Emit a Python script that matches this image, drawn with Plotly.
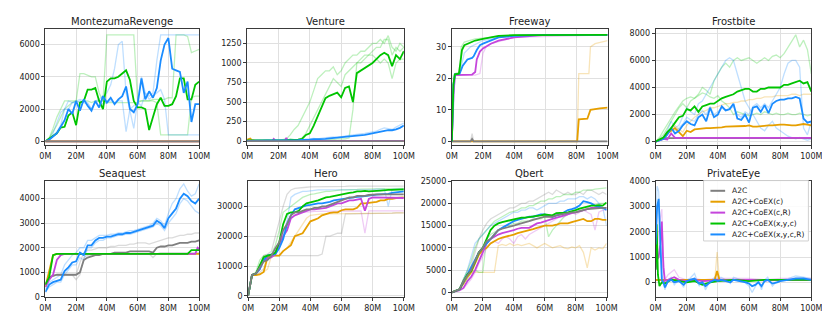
import plotly.graph_objects as go

# ---------------- time grid (millions of frames) ----------------
T = [0, 2.5, 5, 7.5, 10, 12.5, 15, 17.5, 20, 22.5, 25, 27.5, 30, 32.5, 35, 37.5, 40, 42.5, 45, 47.5,
     50, 52.5, 55, 57.5, 60, 62.5, 65, 67.5, 70, 72.5, 75, 77.5, 80, 82.5, 85, 87.5, 90, 92.5, 95, 97.5, 100]

FLAT_X = [0, 100]
FLAT_ZERO = [0, 0]

# ---------------- MontezumaRevenge ----------------
mr_blue = [0,100,300,500,900,1300,2000,1700,2500,1900,
           2600,2200,1900,2500,2100,2800,2400,2700,2300,2600,
           2800,3400,2000,1800,2300,3900,2600,3100,2700,3300,
           5000,6000,6400,4500,4400,4300,3000,3700,1200,2300,
           2300]
mr_green = [0,150,350,500,850,900,1600,1800,1000,2400,
            2500,3200,3200,3300,2500,2000,3700,3900,3900,4000,
            4200,4400,3800,2500,2100,2100,2000,700,1500,2300,
            2700,2200,2200,2300,2800,3900,3900,2600,2600,3500,
            3700]
mr_lg1 = [0,200,800,1500,2000,2500,2500,2500,2500,2400,
          2500,2500,2400,2500,2500,2500,6600,6600,6600,6600,
          6600,6600,6600,6600,2500,2500,2500,2500,2600,2600,
          2600,2600,2700,2700,6600,6600,6600,6500,5500,5600,
          5700]
mr_lg2 = [0,200,600,1000,1500,2000,2200,2400,2500,4200,
          4200,4100,4000,4000,3000,2500,2400,2400,2400,2400,
          2400,2400,2400,2400,2400,2500,2500,2500,2500,2400,
          400,400,400,400,400,400,400,400,2700,2800,
          2800]
mr_lb1 = [0,100,500,1200,1800,2000,2500,2400,2500,2600,
          2500,2400,2000,2500,2600,2800,3000,3500,4500,6000,
          6200,3000,2000,800,2500,4000,3000,2800,3000,5000,
          6600,6600,6600,6600,6600,6600,6600,6600,6600,6600,
          6600]
mr_lb2 = [0,100,300,600,1000,2000,2000,2400,2400,2500,
          2400,2300,2000,2400,2500,2300,2400,2500,2400,2500,
          2500,600,2000,2200,2400,2200,3000,2600,2800,3000,
          3200,2600,400,400,400,400,400,400,400,400,
          400]

# ---------------- Venture ----------------
v_green = [10,10,10,15,10,10,15,10,10,15,
           10,20,15,20,30,80,100,200,320,450,
           550,580,600,620,560,680,700,500,870,900,
           930,970,1000,1050,1100,1130,1100,960,1100,1050,
           1150]
v_blue = [5,5,5,8,8,10,10,10,10,10,
          10,10,12,12,15,15,20,25,25,30,
          30,35,40,40,45,50,55,60,65,70,
          80,90,100,110,120,130,140,140,150,170,
          200]
v_orange_x = [0, 1, 2, 3, 5, 100]
v_orange_y = [20, 30, 35, 15, 5, 5]
v_mag_x = [0, 16, 17, 18, 24, 25, 26, 100]
v_mag_y = [5, 5, 30, 5, 5, 40, 5, 5]
v_lg1 = [10,10,10,10,10,10,10,10,10,20,
         30,80,150,200,300,400,500,650,800,850,
         900,900,950,850,900,1000,1050,1100,1100,1150,
         1150,1200,1250,1250,1300,1250,1350,1200,1150,1250,
         1200]
v_lg2 = [10,10,10,10,10,10,10,10,10,10,
         10,10,10,10,10,10,10,10,10,10,
         10,20,20,30,30,30,40,400,1000,1050,
         1100,1100,1150,1200,1200,1300,1300,1100,1200,1150,
         1200]
v_lg3 = [10,10,10,10,10,10,10,10,10,10,
         10,10,10,20,40,100,200,300,400,500,
         600,700,800,750,700,850,900,950,1000,1000,
         1050,1100,1100,1050,1000,1050,1000,800,1000,1050,
         1050]
v_lb1 = [5,5,5,8,10,15,10,15,10,15,
         10,15,20,15,20,25,30,35,30,40,
         45,50,55,50,60,70,75,80,85,90,
         100,110,120,130,150,170,160,150,180,200,
         230]

# ---------------- Freeway ----------------
fw_green_x = [0, 1, 2, 4.5, 5.5, 6.5, 8, 10, 15, 20, 25, 30, 40, 60, 100]
fw_green_y = [0, 18, 21.3, 21.5, 25, 29, 30.5, 31, 32, 32.5, 33, 33.5, 33.7, 33.8, 33.8]
fw_blue_x = [0, 1, 2, 5, 7, 10, 13, 14, 16, 18, 20, 25, 30, 40, 60, 100]
fw_blue_y = [0, 18, 21.3, 21.5, 24, 26, 26.5, 27, 29, 30.5, 31, 32, 33, 33.5, 33.8, 33.8]
fw_mag_x = [0, 1, 2, 13, 15, 16, 18, 20, 25, 30, 40, 50, 60, 100]
fw_mag_y = [0, 15, 21, 21.2, 22, 26, 28.5, 29.5, 31, 32, 33, 33.5, 33.8, 33.8]
fw_orange_x = [0, 80.5, 81.5, 87, 89, 92, 95, 100]
fw_orange_y = [0, 0, 7, 7.2, 10, 10.3, 10.5, 10.7]
fw_gray_x = [0, 12, 13, 14, 100]
fw_gray_y = [0, 0, 0.8, 0, 0]
fw_lg_x = [0, 1, 2, 5, 6, 8, 15, 25, 40, 100]
fw_lg_y = [0, 21, 21.5, 22, 30, 31.5, 32.5, 33, 33.8, 33.8]
fw_lb_x = [0, 2, 5, 8, 12, 16, 20, 30, 50, 100]
fw_lb_y = [0, 21.5, 21.5, 28, 30, 31, 32, 33, 33.8, 33.8]
fw_lm_x = [0, 2, 15, 18, 20, 22, 25, 40, 100]
fw_lm_y = [0, 21, 21, 21.5, 28, 30, 31, 33, 33.8]
fw_lo_x = [0, 80.5, 81.5, 88, 89, 92, 100]
fw_lo_y = [0, 0, 21.5, 21.5, 30, 31, 32]
fw_lgray_x = [0, 12, 13, 14, 100]
fw_lgray_y = [0, 0, 2.5, 0, 0]

# ---------------- Frostbite ----------------
fb_green = [0,150,300,700,1000,1400,1800,1900,2400,2300,
            2600,2200,2600,2700,2800,2800,3000,3200,3300,3400,
            3500,3700,3800,3900,3900,3700,3700,3900,3900,4000,
            4000,4000,4000,4200,4200,4300,4400,4500,4300,4400,
            3700]
fb_blue = [0,100,200,500,1000,600,800,1200,1500,1300,
           1200,1800,2000,1500,2500,1800,2000,2600,2300,2400,
           2800,1700,1600,2000,1400,2500,2600,2200,2700,2100,
           2800,3000,3100,3100,3200,3200,3300,3200,1700,1400,
           1500]
fb_orange = [0,100,200,600,800,1000,700,400,800,700,
             900,950,1000,1000,1000,1000,1000,1050,1100,1100,
             1100,1100,1100,1150,1200,1100,1100,1150,1200,1200,
             1200,1250,1250,1250,1200,1200,1200,1250,1300,1250,
             1200]
fb_mag_x = [0, 2.5, 5, 7.5, 10, 12.5, 100]
fb_mag_y = [0, 100, 200, 150, 600, 270, 270]
fb_gray_x = [0, 2.5, 5, 100]
fb_gray_y = [0, 150, 250, 250]
fb_lg1 = [0,200,500,1000,1500,2000,2500,2800,2500,3000,
          3200,3500,4000,3800,3500,4500,5000,5500,5800,5500,
          6000,6200,6000,6100,6200,6000,5800,6000,6200,6000,
          6300,6400,6200,6500,7000,7500,7900,7000,7500,6800,
          5000]
fb_lg2 = [0,300,800,1300,1800,2200,2600,3000,3200,3300,
          3200,3400,3600,3500,3300,3200,3400,3000,2800,2500,
          2000,2200,2100,2000,1900,2000,2100,2000,2200,2100,
          2000,2100,2000,2000,2100,2000,2000,2100,2000,1900,
          2000]
fb_lb1 = [0,100,300,800,1500,1000,1200,1800,2500,2200,
          2000,2800,3000,3500,4000,4500,5000,5500,6000,6200,
          6000,5000,4000,3000,2500,2000,1500,1000,800,1200,
          1500,1000,800,600,400,300,200,300,200,100,
          200]
fb_lb2 = [0,100,300,600,900,800,1000,1300,1800,1600,
          1500,2000,2300,2000,2600,2000,2200,2500,2300,2400,
          2600,2000,1800,2200,2000,2600,2800,2500,2800,2500,
          3000,3500,4000,5000,5800,6000,6000,5500,1000,500,
          1500]
fb_lo1 = [0,100,300,700,900,1200,900,700,1200,1500,
          1800,2000,2200,2300,2500,2500,2600,2700,2800,2800,
          2900,2900,3000,3000,3100,3100,3200,3200,3300,3300,
          3300,3400,3400,3400,3400,3500,3500,3400,3500,3500,
          3500]

# ---------------- Seaquest ----------------
sq_blue = [200,500,600,650,700,1050,1200,1400,1450,1800,
           1700,2100,2100,2300,2400,2400,2450,2450,2500,2550,
           2550,2600,2600,2650,2700,2750,2800,2850,2900,3100,
           3000,2800,3200,3400,3600,4000,4200,4100,3900,3800,
           4000]
sq_gray = [500,800,850,900,900,900,900,900,900,1000,
           1500,1600,1650,1700,1700,1750,1750,1750,1800,1800,
           1800,1800,1850,1850,1850,1850,1850,1850,1800,2000,
           2050,2050,2100,2100,2150,2200,2200,2200,2250,2250,
           2300]
sq_green_x = [0, 2.5, 5, 7.5, 92.5, 95, 100]
sq_green_y = [500, 800, 1700, 1750, 1750, 1900, 1900]
sq_orange_x = [0, 2.5, 5, 7.5, 100]
sq_orange_y = [400, 1000, 1700, 1750, 1750]
sq_mag_x = [0, 2.5, 5, 7.5, 10, 12.5, 97.5, 99, 100]
sq_mag_y = [400, 700, 900, 1500, 1700, 1750, 1750, 2000, 1950]
sq_lgray1 = [500,800,900,900,900,900,900,900,900,1400,
             1800,1900,1900,1950,2000,2000,2000,2050,2050,2100,
             2100,2100,2150,2150,2200,2200,2200,2150,2200,2250,
             2300,2350,2400,2400,2450,2500,2500,2550,2550,2600,
             2600]
sq_lgray2 = [500,800,850,900,900,900,900,900,700,900,
             1600,1700,1700,1750,1750,1750,1750,1750,1750,1750,
             1750,1750,1750,1750,1750,1750,1750,1750,1600,1750,
             1800,1800,1800,1800,1800,1800,1800,1800,1800,1800,
             1800]
sq_lb1 = [300,600,700,800,900,1300,1500,1700,1800,2000,
          2000,2300,2300,2400,2500,2500,2500,2550,2550,2600,
          2600,2650,2700,2700,2750,2800,2850,2900,3000,3200,
          3100,2900,3400,3800,4000,4400,4600,4300,4100,4200,
          4600]
sq_lb2 = [200,400,500,600,600,900,1100,1300,1300,1600,
          1500,2000,2000,2200,2300,2300,2400,2400,2450,2500,
          2500,2550,2550,2600,2650,2700,2750,2800,2850,3000,
          2900,2700,3000,3200,3400,3800,4000,3900,3700,3500,
          3400]

# ---------------- Hero ----------------
h_green = [0,7000,7500,10000,13000,13500,13800,14500,18000,24000,
           27500,28000,28000,28500,30000,31000,31300,31800,32000,32500,
           33000,33200,33500,33800,34000,34200,34500,34700,35000,35000,
           35200,35000,35000,35200,35300,35500,35500,35500,35600,35700,
           35700]
h_blue = [0,7000,7500,9000,12000,13500,13800,14000,16000,19000,
          24000,27000,29000,29500,30000,30300,30500,30800,31000,31000,
          31200,31500,32000,32200,32500,32700,33000,33000,33200,33300,
          33500,33600,33800,33900,34000,34000,34200,34500,34700,34900,
          35000]
h_mag = [0,7000,7500,9000,12000,12500,13000,14000,17000,20000,
         22000,26000,27000,27500,28000,28500,29000,29000,29200,29500,
         29500,30000,30500,31000,31000,31500,32000,32000,32200,32500,
         28500,32500,33000,33000,33000,33000,33000,33000,33000,33000,
         32800]
h_orange = [0,7000,7000,7200,8000,13000,13500,13500,13500,15000,
            16000,17000,20000,20500,21000,23000,25000,25500,26000,27000,
            27500,27800,28000,28000,28700,29000,29000,29000,29500,31000,
            31000,31200,31500,31500,32000,32000,32500,32500,32800,33000,
            33000]
h_gray = [0,7000,7500,9500,11500,12000,13500,16000,18000,22000,
          24000,27000,28000,28000,28500,29000,29000,29500,29500,30000,
          30000,30500,31000,31500,32000,32500,33000,33000,33500,33500,
          33500,33800,34000,34000,34000,34000,34000,34000,34000,34000,
          34000]
h_lgray1 = [0,7000,7000,8000,9000,13500,13500,13500,13500,13500,
            13500,13500,13500,13500,13500,13500,13500,13500,13500,14000,
            20000,20000,20500,21000,21000,27500,27500,27500,27500,27500,
            27500,27500,27500,27600,27600,27600,27700,27700,27800,27800,
            27800]
h_lgray2 = [0,7000,7500,10000,13500,14000,15000,20000,25000,30000,
            34000,35500,36000,36200,36300,36400,36500,36500,36500,36600,
            36600,36600,36700,36700,36700,36700,36800,36800,36800,36800,
            36800,36800,36800,36800,36800,36800,36800,36800,36800,36800,
            36800]
h_lo1 = [0,7000,7000,7500,8000,9000,13500,13500,13500,15000,
         16000,18000,20000,22000,24000,26000,27000,27200,27300,27500,
         27500,27500,27500,27500,27500,27500,27500,27500,27500,27500,
         27500,27500,27600,27600,27600,27700,27700,27700,27800,27800,
         27800]
h_lm1 = [0,7000,7500,9000,12000,13000,13500,14000,17000,21000,
         25000,27000,28000,28000,28000,28200,28200,28300,28300,28300,
         28300,28500,28500,28500,28500,28500,28500,28500,28500,28500,
         21000,28500,28500,28500,28500,28500,28500,28500,28500,28500,
         28500]
h_lg1 = [0,7000,8000,12000,13500,13800,14000,17000,22000,28000,
         29000,30000,31000,32000,33000,33500,34000,34200,34500,34800,
         35000,35000,35200,35300,35500,35500,35500,35600,35700,35800,
         35800,35900,36000,36000,36000,36000,36000,36000,36000,36000,
         36000]
h_lb1 = [0,7000,7500,10000,13000,13500,14000,15000,17000,20000,
         25000,33000,34000,34500,35000,35000,35200,35300,35500,35500,
         35500,35500,35500,35500,35500,35500,35500,35500,35500,35500,
         35500,35600,35600,35800,35800,35800,30000,35800,35800,35800,
         35800]

# ---------------- Qbert ----------------
q_green = [0,300,700,2500,4000,4800,7000,9000,10000,12000,
           14000,15000,15500,15800,16000,16300,16500,16600,16800,16800,
           16900,17000,17200,17300,17500,17400,17300,17800,17800,17900,
           18000,18200,18500,18800,19000,19200,19500,19500,19600,19500,
           20200]
q_blue = [0,300,700,2300,4000,5500,7500,9000,10000,11000,
          12000,13000,14000,14500,15000,15500,16000,16300,16500,16800,
          17000,17000,17200,17500,17500,17300,17000,17300,17500,18000,
          18500,18700,19000,19500,20500,20300,20000,19500,19200,19000,
          18500]
q_mag = [0,300,500,1000,2500,3500,5000,7000,9000,11000,
         12000,12500,13000,13300,13500,13800,14000,14300,14500,14500,
         14500,15000,15500,15700,16000,16300,16500,16800,17000,17300,
         17500,17800,18000,18200,18500,18700,19000,19000,19200,19000,
         19000]
q_orange = [0,300,700,2000,3500,4500,6500,8500,9500,10000,
            11000,11500,12000,12300,12500,12800,13000,13300,13500,13800,
            14000,14200,14500,14800,15000,15000,15000,15200,15500,15500,
            15500,15800,16000,16300,16500,16000,16000,16500,16500,16300,
            16300]
q_gray = [0,300,700,2500,3800,5000,7000,9000,10000,11500,
          12000,13000,14000,14300,14500,14800,15000,15300,15500,15800,
          16000,16300,16500,16800,17000,17000,17000,17300,17500,17700,
          17800,18000,18000,18300,18500,18700,18800,18900,19000,19000,
          19000]
q_lo1 = [0,300,700,2000,3500,4500,4500,4500,4500,4500,
         4500,4500,10500,10800,10500,11000,10500,10800,10500,10800,
         11000,10500,10000,10500,11000,10500,10000,10300,10500,10000,
         9800,10200,10000,10500,9000,5500,10000,9500,10000,9800,
         11000]
q_lgray1 = [0,300,800,3000,4500,6000,9000,12000,14000,15500,
            16500,17000,17500,18000,18500,19000,19000,19500,20000,20000,
            20500,20500,21000,21500,22000,22500,22000,23000,22500,22000,
            22500,22000,22000,22500,22000,23000,23000,22500,22000,22500,
            22000]
q_lg1 = [0,300,800,3000,5000,7000,10000,12000,13000,14000,
         15000,16000,16500,17000,17500,18000,18200,18500,19000,19000,
         19500,19500,20000,20500,20500,21000,21000,21500,21500,22000,
         22000,22000,22500,22500,23000,23000,23000,23200,23300,23500,
         23500]
q_lb1 = [0,300,800,3000,5000,8000,11000,12000,13000,14000,
         15000,15500,16000,16500,17000,17500,18000,18000,18500,18500,
         19000,19000,18500,19000,19500,20000,20000,20000,20500,20500,
         21000,21000,21000,21500,21500,21000,21500,21000,20000,19000,
         15000]
q_lm1 = [0,200,400,800,2000,3000,4500,6500,8000,10000,
         11000,11500,11000,12000,12500,12000,11000,12500,13000,12000,
         13000,13500,14000,14500,15000,15500,16000,16500,17000,17000,
         17500,18000,17500,18000,18500,18000,17500,14000,18000,18500,
         18500]
q_lg2 = [0,300,700,2000,3000,4500,5000,4500,4500,12000,
         13000,13500,14000,14500,15000,15000,15500,15500,16000,16000,
         16000,16500,16500,16500,17000,12500,14000,15000,16000,17000,
         17500,18000,18500,18500,19000,19000,19500,19500,20000,20000,
         20000]

# ---------------- PrivateEye ----------------
pe_blue_x = [0,1,2,3,4,5,6,8,10,12,15,18,20,22,25,28,30,32,35,38,40,42,45,48,50,55,58,60,62,64,66,68,70,72,75,78,80,85,90,95,100]
pe_blue_y = [1500,3000,3300,1500,100,0,-200,50,100,0,50,-100,50,100,150,-50,0,-150,0,100,
             50,100,50,0,100,50,0,-50,-150,-100,0,-150,50,100,-50,0,50,100,150,150,100]
pe_lb_y = [2000,3800,3600,2000,300,100,-300,100,200,-100,100,-200,100,150,350,-150,50,-300,50,200,
           100,200,100,-50,200,100,-50,-150,-400,-200,50,-300,100,200,-150,50,100,150,250,200,150]
pe_green_x = [0,0.7,1.5,2.5,4,6,10,15,20,25,30,35,40,50,60,70,80,90,100]
pe_green_y = [500,2300,300,-150,0,-50,100,50,0,50,-100,0,50,100,50,100,100,100,100]
pe_mag_x = [0,1,2,3,4,5,6,8,10,12,15,20,25,30,40,50,60,70,80,90,100]
pe_mag_y = [500,900,1000,1500,2400,600,50,100,150,200,100,50,100,50,80,100,100,80,100,100,100]
pe_lm_y = [800,1500,2000,2500,2900,1000,100,300,400,500,200,100,150,100,150,150,150,100,150,150,150]
pe_orange_x = [0,10,20,30,38,39.5,41,50,60,70,80,90,100]
pe_orange_y = [100,100,100,100,100,450,100,100,100,100,100,100,100]
pe_lo_y = [100,100,100,100,100,1200,100,100,100,100,100,100,100]
pe_gray_y = [100, 100]

# ---------------- styling ----------------
METHODS = ['A2C', 'A2C+CoEX(c)', 'A2C+CoEX(c,R)', 'A2C+CoEX(x,y,c)', 'A2C+CoEX(x,y,c,R)']
COLORS = {'A2C': '#7f7f7f', 'A2C+CoEX(c)': '#e69f00', 'A2C+CoEX(c,R)': '#c545dc',
          'A2C+CoEX(x,y,c)': '#00c400', 'A2C+CoEX(x,y,c,R)': '#1a8cff'}
LIGHT = {'A2C': 'rgba(127,127,127,0.28)', 'A2C+CoEX(c)': 'rgba(230,159,0,0.28)',
         'A2C+CoEX(c,R)': 'rgba(197,69,220,0.28)', 'A2C+CoEX(x,y,c)': 'rgba(0,196,0,0.26)',
         'A2C+CoEX(x,y,c,R)': 'rgba(26,140,255,0.28)'}

W, H = 830, 312
# (title, x0, x1, ytop, ybottom in px, yrange, dtick)
PANELS = [
    ('MontezumaRevenge', 32, 189, 17, 137, [-260, 6990], 2000),
    ('Venture', 238, 398, 17, 137, [-55, 1440], 250),
    ('Freeway', 447, 606, 17, 137, [-1.3, 35.8], 10),
    ('Frostbite', 655, 814, 17, 137, [-290, 8360], 2000),
    ('Seaquest', 32, 189, 173, 293, [-25, 4735], 1000),
    ('Hero', 239, 398, 173, 293, [-520, 38640], 10000),
    ('Qbert', 447, 605, 173, 293, [-1150, 25130], 5000),
    ('PrivateEye', 655, 814, 173, 293, [-600, 4025], 1000),
]

fig = go.Figure()


def add(k, x, y, method, light=False):
    sfx = '' if k == 1 else str(k)
    fig.add_trace(go.Scatter(
        x=x, y=y, mode='lines', xaxis='x' + sfx, yaxis='y' + sfx,
        line=dict(color=LIGHT[method] if light else COLORS[method], width=1.3 if light else 1.8),
        name=method, showlegend=False, hoverinfo='skip'))


A, C, CR, XYC, XYCR = METHODS

# 1 Montezuma
for s in (mr_lg1, mr_lg2):
    add(1, T, s, XYC, light=True)
for s in (mr_lb1, mr_lb2):
    add(1, T, s, XYCR, light=True)
add(1, T, mr_green, XYC)
add(1, T, mr_blue, XYCR)
add(1, FLAT_X, FLAT_ZERO, CR)
add(1, FLAT_X, FLAT_ZERO, C)
add(1, FLAT_X, FLAT_ZERO, A)

# 2 Venture
for s in (v_lg1, v_lg2, v_lg3):
    add(2, T, s, XYC, light=True)
add(2, T, v_lb1, XYCR, light=True)
add(2, v_orange_x, v_orange_y, C)
add(2, v_mag_x, v_mag_y, CR)
add(2, T, v_green, XYC)
add(2, T, v_blue, XYCR)
add(2, FLAT_X, FLAT_ZERO, A)

# 3 Freeway
add(3, fw_lg_x, fw_lg_y, XYC, light=True)
add(3, fw_lb_x, fw_lb_y, XYCR, light=True)
add(3, fw_lm_x, fw_lm_y, CR, light=True)
add(3, fw_lo_x, fw_lo_y, C, light=True)
add(3, fw_lgray_x, fw_lgray_y, A, light=True)
add(3, fw_orange_x, fw_orange_y, C)
add(3, fw_gray_x, fw_gray_y, A)
add(3, fw_mag_x, fw_mag_y, CR)
add(3, fw_blue_x, fw_blue_y, XYCR)
add(3, fw_green_x, fw_green_y, XYC)

# 4 Frostbite
add(4, T, fb_lo1, C, light=True)
for s in (fb_lg1, fb_lg2):
    add(4, T, s, XYC, light=True)
for s in (fb_lb1, fb_lb2):
    add(4, T, s, XYCR, light=True)
add(4, T, fb_orange, C)
add(4, fb_gray_x, fb_gray_y, A)
add(4, fb_mag_x, fb_mag_y, CR)
add(4, T, fb_blue, XYCR)
add(4, T, fb_green, XYC)

# 5 Seaquest
for s in (sq_lgray1, sq_lgray2):
    add(5, T, s, A, light=True)
for s in (sq_lb1, sq_lb2):
    add(5, T, s, XYCR, light=True)
add(5, T, sq_gray, A)
add(5, sq_orange_x, sq_orange_y, C)
add(5, sq_mag_x, sq_mag_y, CR)
add(5, sq_green_x, sq_green_y, XYC)
add(5, T, sq_blue, XYCR)

# 6 Hero
for s in (h_lgray1, h_lgray2):
    add(6, T, s, A, light=True)
add(6, T, h_lo1, C, light=True)
add(6, T, h_lm1, CR, light=True)
add(6, T, h_lg1, XYC, light=True)
add(6, T, h_lb1, XYCR, light=True)
add(6, T, h_orange, C)
add(6, T, h_mag, CR)
add(6, T, h_blue, XYCR)
add(6, T, h_green, XYC)
add(6, T, h_gray, A)

# 7 Qbert
add(7, T, q_lo1, C, light=True)
add(7, T, q_lgray1, A, light=True)
for s in (q_lg1, q_lg2):
    add(7, T, s, XYC, light=True)
add(7, T, q_lb1, XYCR, light=True)
add(7, T, q_lm1, CR, light=True)
add(7, T, q_orange, C)
add(7, T, q_mag, CR)
add(7, T, q_blue, XYCR)
add(7, T, q_green, XYC)
add(7, T, q_gray, A)

# 8 PrivateEye
add(8, pe_blue_x, pe_lb_y, XYCR, light=True)
add(8, pe_mag_x, pe_lm_y, CR, light=True)
add(8, pe_orange_x, pe_lo_y, C, light=True)
add(8, FLAT_X, pe_gray_y, A)
add(8, pe_orange_x, pe_orange_y, C)
add(8, pe_mag_x, pe_mag_y, CR)
add(8, pe_green_x, pe_green_y, XYC)
add(8, pe_blue_x, pe_blue_y, XYCR)

AX_COMMON = dict(showline=True, mirror=True, linecolor='#3a3a3a', linewidth=1,
                 showgrid=True, gridcolor='#e0e0e0', gridwidth=1, zeroline=False,
                 ticks='outside', ticklen=3, tickcolor='#3a3a3a', tickwidth=1,
                 tickfont=dict(size=8, color='#222', family='DejaVu Sans'))

annotations = []
shapes = []
for i, (title, x0, x1, yt, yb, yr, dt) in enumerate(PANELS, start=1):
    sfx = '' if i == 1 else str(i)
    fig.layout['xaxis' + sfx] = dict(domain=[x0 / W, x1 / W], range=[0, 100], dtick=20, tick0=0,
                                     ticksuffix='M', anchor='y' + sfx, **AX_COMMON)
    fig.layout['yaxis' + sfx] = dict(domain=[1 - yb / H, 1 - yt / H], range=yr, dtick=dt, tick0=0,
                                     tickformat='d', anchor='x' + sfx, **AX_COMMON)
    annotations.append(dict(text=title, x=(x0 + x1) / 2 / W, y=1 - (yt - 7.5) / H, xref='paper',
                            yref='paper', showarrow=False, xanchor='center', yanchor='middle',
                            font=dict(size=10, color='#222', family='DejaVu Sans')))

# legend box drawn in the PrivateEye panel (matplotlib-style compact legend)
LEG_X0, LEG_X1, LEG_Y0, LEG_Y1 = 704, 811, 173, 235
shapes.append(dict(type='rect', xref='paper', yref='paper', x0=LEG_X0 / W, x1=LEG_X1 / W,
                   y0=1 - LEG_Y1 / H, y1=1 - LEG_Y0 / H, line=dict(color='#d0d0d0', width=1),
                   fillcolor='rgba(255,255,255,0.85)', layer='above'))
for j, m in enumerate(METHODS):
    yy = 1 - (183.5 + j * 11.2) / H
    shapes.append(dict(type='line', xref='paper', yref='paper', x0=711 / W, x1=726 / W,
                       y0=yy, y1=yy, line=dict(color=COLORS[m], width=2), layer='above'))
    annotations.append(dict(text=m, x=731 / W, y=yy, xref='paper', yref='paper', showarrow=False,
                            xanchor='left', yanchor='middle',
                            font=dict(size=7.5, color='#222', family='DejaVu Sans')))

fig.update_layout(
    width=W, height=H, margin=dict(l=0, r=0, t=0, b=0),
    paper_bgcolor='white', plot_bgcolor='white',
    annotations=annotations, shapes=shapes, showlegend=False,
    font=dict(family='DejaVu Sans'),
)

fig.write_html('out.html')
